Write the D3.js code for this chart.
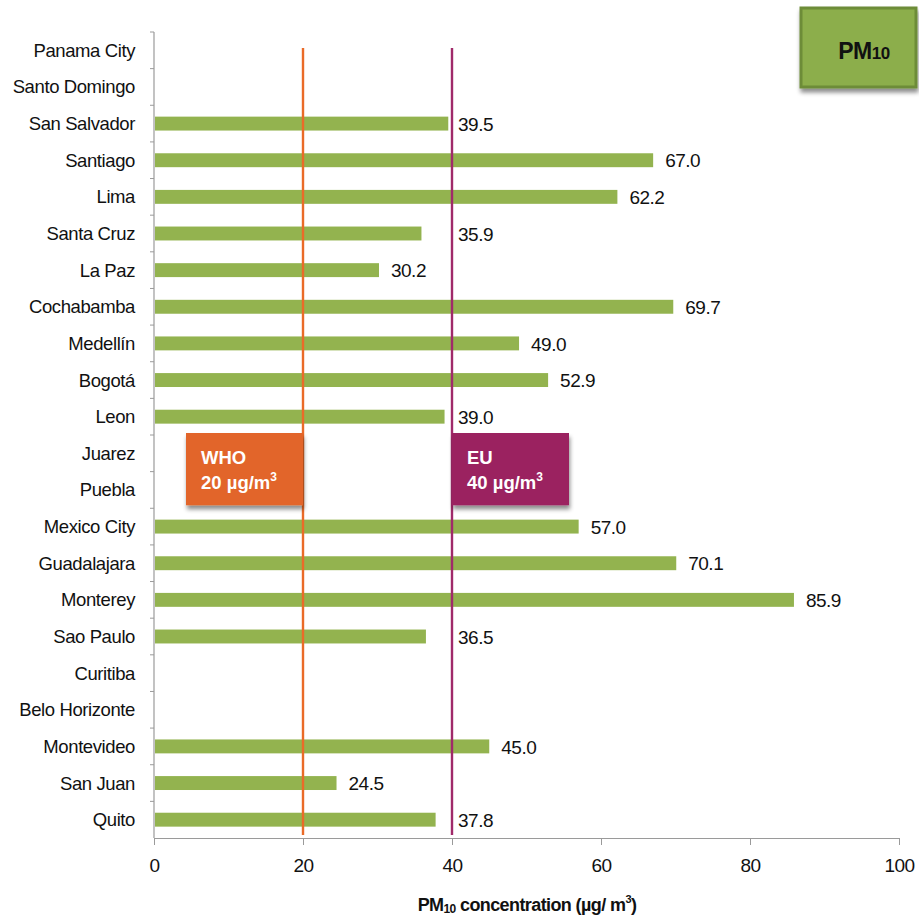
<!DOCTYPE html>
<html>
<head>
<meta charset="utf-8">
<script src="https://cdn.jsdelivr.net/npm/d3@7/dist/d3.min.js"></script>
<style>
  html, body { margin: 0; padding: 0; background: #fff; }
  svg { display: block; font-family: "Liberation Sans", Arial, sans-serif; }
</style>
</head>
<body>
<svg id="chart" width="919" height="920"></svg>
<script>
// Annual mean PM10 by city (null = no data reported)
const cities = ["Panama City", "Santo Domingo", "San Salvador", "Santiago", "Lima", "Santa Cruz",
  "La Paz", "Cochabamba", "Medellín", "Bogotá", "Leon", "Juarez", "Puebla", "Mexico City",
  "Guadalajara", "Monterey", "Sao Paulo", "Curitiba", "Belo Horizonte", "Montevideo", "San Juan", "Quito"];
const pm10 = [null, null, 39.5, 67.0, 62.2, 35.9, 30.2, 69.7, 49.0, 52.9, 39.0, null, null, 57.0,
  70.1, 85.9, 36.5, null, null, 45.0, 24.5, 37.8];
const xTicks = [0, 20, 40, 60, 80, 100];
const guidelines = [
  { name: "WHO", value: 20, color: "#ea6b28", boxColor: "#e2652a", side: "left" },
  { name: "EU", value: 40, color: "#a02a6a", boxColor: "#9b2061", side: "right" }
];
const boxRows = ["Juarez", "Puebla"];

const svg = d3.select("#chart");
const plotLeft = 154, plotRight = 899, plotTop = 32, plotBottom = 838;

const x = d3.scaleLinear().domain([0, 100]).range([plotLeft, plotRight]);
const y = d3.scaleBand().domain(cities).range([plotTop, plotBottom]).paddingInner(0.62).paddingOuter(0.31);
const yb = d3.scaleBand().domain(cities).range([plotTop, plotBottom]);

const defs = svg.append("defs");
const f = defs.append("filter").attr("id", "shadow").attr("x", "-10%").attr("y", "-10%")
  .attr("width", "130%").attr("height", "140%");
f.append("feDropShadow").attr("dx", 1).attr("dy", 4).attr("stdDeviation", 2)
  .attr("flood-color", "#000").attr("flood-opacity", 0.45);

// Axes
const gx = svg.append("g").attr("transform", `translate(0,${plotBottom})`)
  .call(d3.axisBottom(x).tickValues(xTicks).tickSize(7).tickPadding(14).tickSizeOuter(0));
gx.select(".domain").attr("stroke", "#9a9a9a").attr("stroke-width", 1.2);
gx.selectAll(".tick line").attr("stroke", "#9a9a9a");
gx.selectAll(".tick text").attr("font-size", 19).attr("fill", "#111")
  .attr("font-family", "Liberation Sans, Arial, sans-serif").style("letter-spacing", "-0.5px");

// Y axis line with ticks at row boundaries
const gy = svg.append("g");
gy.append("line").attr("x1", plotLeft).attr("x2", plotLeft).attr("y1", plotTop).attr("y2", plotBottom)
  .attr("stroke", "#9a9a9a").attr("stroke-width", 1.2);
gy.selectAll("line.t").data(cities).join("line").attr("class", "t")
  .attr("x1", plotLeft - 4).attr("x2", plotLeft).attr("y1", d => yb(d)).attr("y2", d => yb(d))
  .attr("stroke", "#9a9a9a");
gy.selectAll("text").data(cities).join("text")
  .attr("x", plotLeft - 19).attr("y", d => yb(d) + yb.bandwidth() / 2).attr("dy", "0.35em")
  .attr("text-anchor", "end").attr("font-size", 18.5).attr("fill", "#111")
  .style("letter-spacing", "-0.4px").text(d => d);

// Bars
const rows = cities.map((c, i) => ({ city: c, v: pm10[i] })).filter(d => d.v != null);
svg.append("g").selectAll("rect").data(rows).join("rect")
  .attr("x", x(0) + 1).attr("y", d => y(d.city))
  .attr("width", d => x(d.v) - x(0) - 1).attr("height", y.bandwidth())
  .attr("fill", "#93b34f");

// Guideline lines
svg.append("g").selectAll("line").data(guidelines).join("line")
  .attr("x1", d => x(d.value)).attr("x2", d => x(d.value))
  .attr("y1", 48).attr("y2", plotBottom - 3)
  .attr("stroke", d => d.color).attr("stroke-width", 2.4);

// Value labels, nudged past the EU line when they would overlap it
const euX = x(40);
svg.append("g").selectAll("text").data(rows).join("text")
  .attr("x", d => {
    const lx = x(d.v) + 12;
    return (d.v < 40 && lx + 36 > euX) ? euX + 6 : lx;
  })
  .attr("y", d => y(d.city) + y.bandwidth() / 2).attr("dy", "0.38em")
  .attr("font-size", 19).attr("fill", "#111").style("letter-spacing", "-0.5px")
  .text(d => d.v.toFixed(1));

// Guideline boxes
const boxTop = yb(boxRows[0]) - 2;
const boxH = yb(boxRows[1]) + yb.bandwidth() - yb(boxRows[0]) - 1;
const boxW = 117;
const gb = svg.append("g").selectAll("g").data(guidelines).join("g")
  .attr("transform", d => `translate(${d.side === "left" ? x(d.value) - boxW : x(d.value)},${boxTop})`);
gb.append("rect").attr("width", boxW).attr("height", boxH)
  .attr("fill", d => d.boxColor).attr("filter", "url(#shadow)");
gb.append("text").attr("x", 15).attr("y", 31).attr("fill", "#fff")
  .attr("font-weight", "bold").attr("font-size", 18.5).text(d => d.name);
const t2 = gb.append("text").attr("x", 15).attr("y", 56).attr("fill", "#fff")
  .attr("font-weight", "bold").attr("font-size", 18.5);
t2.append("tspan").text(d => d.value + " µg/m");
t2.append("tspan").attr("font-size", 12).attr("dy", -8).text("3");

// PM10 badge
const badge = svg.append("g").attr("transform", "translate(801,8)");
badge.append("rect").attr("width", 115).attr("height", 79).attr("fill", "#8cae4c")
  .attr("stroke", "#6d8c37").attr("stroke-width", 3).attr("filter", "url(#shadow)");
const bt = badge.append("text").attr("x", 63).attr("y", 51).attr("text-anchor", "middle")
  .attr("font-weight", "bold").attr("font-size", 23).attr("fill", "#111").style("letter-spacing", "-0.5px");
bt.append("tspan").text("PM");
bt.append("tspan").attr("font-size", 17).attr("dy", 0).text("10");

// Axis title
const at = svg.append("text").attr("x", 527).attr("y", 911).attr("text-anchor", "middle")
  .attr("font-weight", "bold").attr("font-size", 18).attr("fill", "#111")
  .style("letter-spacing", "-0.6px");
at.append("tspan").text("PM");
at.append("tspan").attr("font-size", 12).attr("dy", 2).text("10");
at.append("tspan").attr("dy", -2).text(" concentration (µg/ m");
at.append("tspan").attr("font-size", 11).attr("dy", -8).text("3");
at.append("tspan").attr("dy", 8).text(")");
</script>
</body>
</html>
